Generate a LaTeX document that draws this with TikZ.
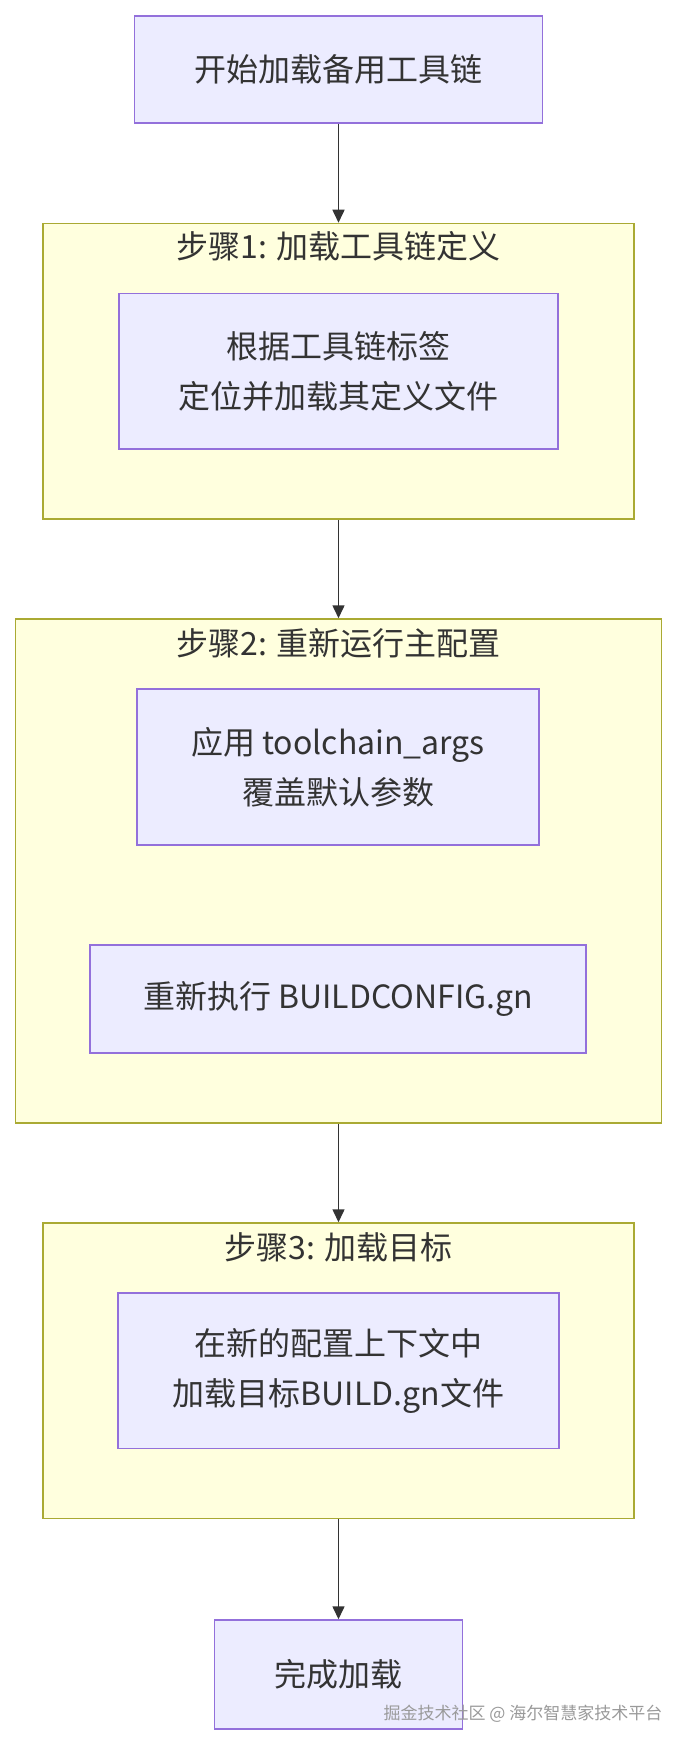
\documentclass[tikz,border=0pt]{standalone}
\usepackage{fontspec}
\setmainfont{Noto Sans CJK SC}
\usetikzlibrary{arrows.meta}
\definecolor{nodefill}{HTML}{ECECFF}
\definecolor{nodeline}{HTML}{9370DB}
\definecolor{clusterfill}{HTML}{FFFFDE}
\definecolor{clusterline}{HTML}{AAAA33}
\definecolor{txt}{HTML}{333333}
\definecolor{wm}{HTML}{9A9A9A}
\tikzset{
  proc/.style={draw=nodeline, fill=nodefill, line width=1.5pt, inner sep=0pt,
    align=center, text=txt, font=\fontsize{32}{50}\selectfont},
  cluster/.style={draw=clusterline, fill=clusterfill, line width=1.5pt, inner sep=0pt},
  ctitle/.style={text=txt, font=\fontsize{32}{40}\selectfont, inner sep=0pt},
  flow/.style={draw=txt, line width=1.5pt, -{Triangle[length=13pt,width=12pt]}},
}
\begin{document}
\begin{tikzpicture}[x=1pt,y=-1pt]
\useasboundingbox[fill=white] (0,0) rectangle (677,1744);

\node[proc, minimum width=408pt, minimum height=107pt] (start) at (338.5,69.5) {开始加载备用工具链};

\node[cluster, minimum width=591pt, minimum height=295.5pt] (c1) at (338.5,371.25) {};
\node[ctitle] (t1) at (338.5,246) {步骤1: 加载工具链定义};
\node[proc, minimum width=439pt, minimum height=155.5pt] (n1) at (338.5,371.25) {根据工具链标签\\定位并加载其定义文件};

\node[cluster, minimum width=646pt, minimum height=504pt] (c2) at (338.5,871) {};
\node[ctitle] (t2) at (338.5,643) {步骤2: 重新运行主配置};
\node[proc, minimum width=402pt, minimum height=156pt] (n2a) at (338,767) {应用 toolchain\_args\\覆盖默认参数};
\node[proc, minimum width=496pt, minimum height=108pt] (n2b) at (338,999) {重新执行 BUILDCONFIG.gn};

\node[cluster, minimum width=591pt, minimum height=295.5pt] (c3) at (338.5,1370.75) {};
\node[ctitle] (t3) at (338.5,1247) {步骤3: 加载目标};
\node[proc, minimum width=441pt, minimum height=155.5pt] (n3) at (338.5,1370.75) {在新的配置上下文中\\加载目标BUILD.gn文件};

\node[proc, minimum width=248pt, minimum height=109pt] (end) at (338.5,1674.5) {完成加载};

\draw[flow] (start.south) -- (c1.north);
\draw[flow] (c1.south) -- (c2.north);
\draw[flow] (c2.south) -- (c3.north);
\draw[flow] (c3.south) -- (end.north);

\node[text=wm, font=\fontsize{17}{20}\selectfont, inner sep=0pt] (wmark) at (523,1714) {掘金技术社区 @ 海尔智慧家技术平台};
\end{tikzpicture}
\end{document}
